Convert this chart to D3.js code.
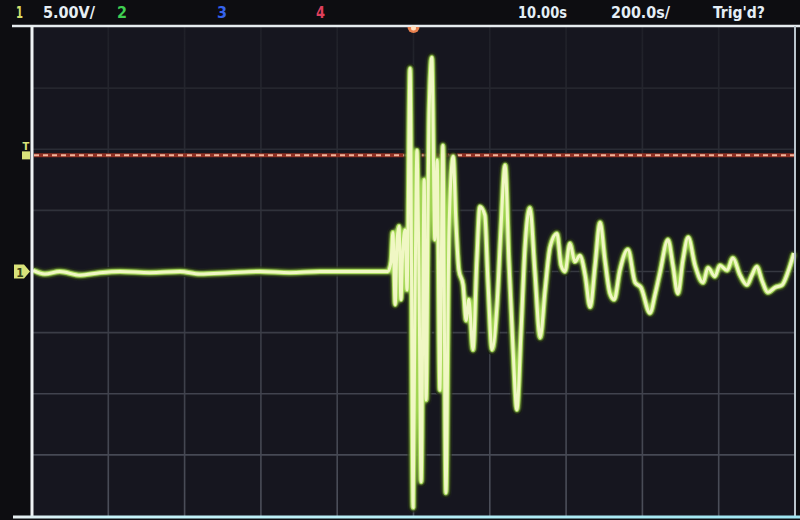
<!DOCTYPE html>
<html>
<head>
<meta charset="utf-8">
<script src="https://cdn.jsdelivr.net/npm/d3@7"></script>
<style>
  html, body { margin: 0; padding: 0; background: #0d0d11; }
  svg { display: block; }
</style>
</head>
<body>
<script>
const svgWidth = 800;
const svgHeight = 520;

// captured trace, time in microseconds from trigger, volts
const timeUs = [-997, -966, -927, -874, -822, -769, -691, -612, -560, -481, -402, -324, -245, -166, -88, -67,
  -59, -54, -48, -43, -38, -33, -28, -22, -17, -9, -1, 4, 9, 14, 20, 28, 33, 41, 48, 56, 62, 69, 77, 85, 93,
  104, 111, 119, 130, 138, 145, 156, 166, 174, 187, 195, 206, 219, 229, 240, 250, 261, 271, 282, 292, 305,
  318, 332, 345, 358, 376, 387, 397, 410, 423, 436, 450, 463, 476, 489, 502, 515, 526, 541, 562, 581, 596,
  620, 633, 646, 667, 680, 693, 706, 720, 738, 759, 772, 790, 803, 822, 837, 856, 874, 887, 900, 913, 929,
  948, 966, 982, 997];
const volts = [0.1, -0.2, 0.0, -0.3, -0.1, 0.0, -0.1, 0.0, -0.2, -0.1, 0.0, -0.1, 0.0, 0.0, 0.0, 0.0,
  0.8, 3.2, -2.7, 2.6, 3.7, -2.3, 1.8, 3.4, -1.5, 16.6, -19.3, -2.3, 9.9, 0.9, -17.2, 7.5, -10.5, 13.2, 17.5,
  2.6, 9.1, -9.7, 10.3, -18.1, 3.4, 9.4, 4.2, 0.1, -1.1, -4.0, -2.3, -6.4, 0.9, 5.3, 4.6, -0.7, -6.4, -2.7,
  3.4, 8.7, 0.9, -6.4, -11.3, -4.8, 1.8, 5.2, 0.1, -5.4, -1.5, 2.0, 3.1, 0.5, 0.0, 2.3, 0.8, 1.3, -0.3, -2.9,
  0.5, 4.0, 0.9, -1.8, -2.3, 0.1, 1.8, -0.9, -1.3, -3.4, -1.9, -0.1, 2.6, 0.5, -1.8, 0.9, 2.8, 0.5, -0.9,
  0.3, -0.4, 0.5, 0.1, 1.1, -0.3, -1.1, -0.3, 0.4, -0.7, -1.7, -1.3, -1.1, 0.0, 1.5];

const timeTicks = [-800, -600, -400, -200, 0, 200, 400, 600, 800];
const voltTicks = [-15, -10, -5, 0, 5, 10, 15];
const triggerLevel = 9.5;

const topLabels = [
  { text: "1", x: 16, w: 7, fill: "#d6df6c" },
  { text: "5.00V/", x: 43, w: 52, fill: "#e6eef4" },
  { text: "2", x: 117, w: 10, fill: "#3fcf52" },
  { text: "3", x: 217, w: 10, fill: "#3563ee" },
  { text: "4", x: 316, w: 9, fill: "#de3f5c" },
  { text: "10.00s", x: 518, w: 49, fill: "#e4eef6" },
  { text: "200.0s/", x: 611, w: 59, fill: "#e4eef6" },
  { text: "Trig'd?", x: 713, w: 52, fill: "#e4eef6" }
];

const plot = { left: 32, right: 795, top: 27, bottom: 516 };

const x = d3.scaleLinear().domain([-1000, 1000]).range([plot.left, plot.right]);
const y = d3.scaleLinear().domain([-20, 20]).range([plot.bottom, plot.top]);

const svg = d3.select("body")
    .append("svg")
    .attr("width", svgWidth)
    .attr("height", svgHeight);

const defs = svg.append("defs");

const gridGrad = defs.append("linearGradient")
    .attr("id", "gridgrad")
    .attr("gradientUnits", "userSpaceOnUse")
    .attr("x1", 0).attr("y1", plot.top)
    .attr("x2", 0).attr("y2", plot.bottom);
gridGrad.append("stop").attr("offset", "0").attr("stop-color", "#1f2028");
gridGrad.append("stop").attr("offset", "0.45").attr("stop-color", "#30323b");
gridGrad.append("stop").attr("offset", "1").attr("stop-color", "#4c4f5a");

const bottomGrad = defs.append("linearGradient")
    .attr("id", "bottomgrad")
    .attr("gradientUnits", "userSpaceOnUse")
    .attr("x1", 10).attr("y1", 0)
    .attr("x2", 800).attr("y2", 0);
bottomGrad.append("stop").attr("offset", "0").attr("stop-color", "#e8eef0");
bottomGrad.append("stop").attr("offset", "0.1").attr("stop-color", "#c8f4fa");
bottomGrad.append("stop").attr("offset", "1").attr("stop-color", "#9fe6f2");

defs.append("filter")
    .attr("id", "glow")
    .attr("x", "-5%").attr("y", "-5%").attr("width", "110%").attr("height", "110%")
  .append("feGaussianBlur")
    .attr("stdDeviation", 1.6);

// screen
svg.append("rect")
    .attr("x", plot.left)
    .attr("y", plot.top)
    .attr("width", plot.right - plot.left)
    .attr("height", plot.bottom - plot.top)
    .style("fill", "#16161f");

// grid
svg.append("g")
    .selectAll("line")
    .data(timeTicks)
    .enter()
    .append("line")
    .attr("x1", d => x(d)).attr("x2", d => x(d))
    .attr("y1", plot.top).attr("y2", plot.bottom)
    .style("stroke", "url(#gridgrad)")
    .style("stroke-width", 1.6);

svg.append("g")
    .selectAll("line")
    .data(voltTicks)
    .enter()
    .append("line")
    .attr("x1", plot.left).attr("x2", plot.right)
    .attr("y1", d => y(d)).attr("y2", d => y(d))
    .style("stroke", d => d3.interpolateRgb("#1f2028", "#4c4f5a")((20 - d) / 40))
    .style("stroke-width", 1.6);

// trigger level line
svg.append("line")
    .attr("x1", plot.left + 2).attr("x2", plot.right)
    .attr("y1", y(triggerLevel)).attr("y2", y(triggerLevel))
    .style("stroke", "#8f2f22")
    .style("stroke-width", 4);
svg.append("line")
    .attr("x1", plot.left + 2).attr("x2", plot.right)
    .attr("y1", y(triggerLevel)).attr("y2", y(triggerLevel))
    .style("stroke", "#f2b49a")
    .style("stroke-width", 2)
    .style("stroke-dasharray", "5 4");

// trace
const points = timeUs.map((t, i) => [t, volts[i]]);
const line = d3.line()
    .x(d => x(d[0]))
    .y(d => y(d[1]))
    .curve(d3.curveMonotoneX);

svg.append("path")
    .attr("d", line(points))
    .style("fill", "none")
    .style("stroke", "#050507")
    .style("stroke-width", 10)
    .style("stroke-linejoin", "round")
    .style("opacity", 0.7);

svg.append("path")
    .attr("d", line(points))
    .style("fill", "none")
    .style("stroke", "#9cd14e")
    .style("stroke-width", 6)
    .style("stroke-linejoin", "round")
    .style("filter", "url(#glow)");

svg.append("path")
    .attr("d", line(points))
    .style("fill", "none")
    .style("stroke", "#a9da5c")
    .style("stroke-width", 4.8)
    .style("stroke-linejoin", "round");

svg.append("path")
    .attr("d", line(points))
    .style("fill", "none")
    .style("stroke", "#f0f7c4")
    .style("stroke-width", 3)
    .style("stroke-linejoin", "round");

// frame
svg.append("line")
    .attr("x1", 12).attr("x2", 800)
    .attr("y1", plot.top - 1).attr("y2", plot.top - 1)
    .style("stroke", "#e6ecef")
    .style("stroke-width", 2.5);
svg.append("line")
    .attr("x1", plot.left).attr("x2", plot.left)
    .attr("y1", plot.top - 1).attr("y2", plot.bottom)
    .style("stroke", "#eef2f4")
    .style("stroke-width", 3);
svg.append("line")
    .attr("x1", plot.right).attr("x2", plot.right)
    .attr("y1", plot.top - 1).attr("y2", plot.bottom)
    .style("stroke", "#b9c4cc")
    .style("stroke-width", 2);
svg.append("line")
    .attr("x1", 13).attr("x2", 800)
    .attr("y1", plot.bottom + 1).attr("y2", plot.bottom + 1)
    .style("stroke", "url(#bottomgrad)")
    .style("stroke-width", 3);

// trigger position marker
svg.append("path")
    .attr("d", d3.arc()({ innerRadius: 0, outerRadius: 6, startAngle: Math.PI / 2, endAngle: Math.PI * 1.5 }))
    .attr("transform", `translate(${x(0)},${plot.top})`)
    .style("fill", "#e8804e");
svg.append("circle")
    .attr("cx", x(0)).attr("cy", plot.top + 1)
    .attr("r", 2.5)
    .style("fill", "#ffe2c4");

// left markers
const markerColor = "#d9e27a";
svg.append("text")
    .attr("x", 26).attr("y", y(triggerLevel) - 5)
    .attr("text-anchor", "middle")
    .style("font-family", "DejaVu Sans Condensed, DejaVu Sans, sans-serif")
    .style("font-size", "11px")
    .style("font-weight", "bold")
    .style("fill", markerColor)
    .text("T");
svg.append("rect")
    .attr("x", 22).attr("y", y(triggerLevel) - 4)
    .attr("width", 8).attr("height", 8)
    .style("fill", markerColor);

svg.append("path")
    .attr("d", `M14,${y(0) - 7} L24,${y(0) - 7} L30,${y(0)} L24,${y(0) + 7} L14,${y(0) + 7} Z`)
    .style("fill", markerColor);
svg.append("text")
    .attr("x", 20).attr("y", y(0) + 5)
    .attr("text-anchor", "middle")
    .style("font-family", "DejaVu Sans Condensed, DejaVu Sans, sans-serif")
    .style("font-size", "12px")
    .style("font-weight", "bold")
    .style("fill", "#3a4418")
    .text("1");

// status bar
svg.selectAll("text.top")
    .data(topLabels)
    .enter()
    .append("text")
    .attr("class", "top")
    .attr("x", d => d.x)
    .attr("y", 18)
    .attr("textLength", d => d.w)
    .attr("lengthAdjust", "spacingAndGlyphs")
    .style("font-family", "DejaVu Sans Condensed, DejaVu Sans, sans-serif")
    .style("font-size", "16px")
    .style("font-weight", "bold")
    .style("fill", d => d.fill)
    .text(d => d.text);
</script>
</body>
</html>
